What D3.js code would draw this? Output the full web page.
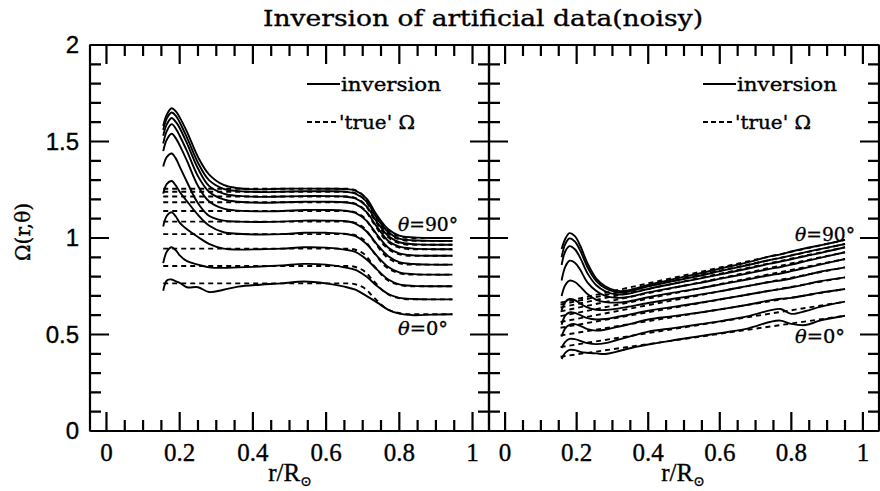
<!DOCTYPE html>
<html><head><meta charset="utf-8">
<script src="https://cdn.jsdelivr.net/npm/d3@7"></script>
<style>body{margin:0;background:#fff}svg{display:block}</style>
</head><body><svg id="c" width="880" height="491"></svg>
<script>
// ---------------- data ----------------
const chartTitle = "Inversion of artificial data(noisy)";
const thetas = [90, 80, 70, 60, 50, 40, 30, 20, 10, 0];
const xMajorTicks = [0, 0.2, 0.4, 0.6, 0.8, 1];
const xMinorTicks = [0.05, 0.1, 0.15, 0.25, 0.3, 0.35, 0.45, 0.5, 0.55, 0.65, 0.7, 0.75, 0.85, 0.9, 0.95];
const xTickLabels = ["0", "0.2", "0.4", "0.6", "0.8", "1"];
const yMajorTicks = [0, 0.5, 1, 1.5, 2];
const yMinorTicks = [0.1, 0.2, 0.3, 0.4, 0.6, 0.7, 0.8, 0.9, 1.1, 1.2, 1.3, 1.4, 1.6, 1.7, 1.8, 1.9];
const yTickLabels = ["0", "0.5", "1", "1.5", "2"];

// left panel: inversion (solid)
const rLeft = [0.155, 0.165, 0.178, 0.19, 0.20, 0.22, 0.25, 0.28, 0.32, 0.36, 0.42, 0.48, 0.54, 0.60, 0.65, 0.68, 0.71, 0.74, 0.77, 0.80, 0.84, 0.89, 0.945];
const leftInv90 = [1.58, 1.64, 1.672, 1.655, 1.625, 1.55, 1.42, 1.33, 1.275, 1.258, 1.252, 1.255, 1.256, 1.255, 1.254, 1.245, 1.205, 1.115, 1.045, 1.012, 1.003, 1.000, 1.000];
const leftInv80 = [1.56, 1.62, 1.650, 1.632, 1.60, 1.52, 1.39, 1.30, 1.255, 1.243, 1.238, 1.24, 1.242, 1.242, 1.24, 1.23, 1.19, 1.10, 1.03, 0.997, 0.988, 0.985, 0.985];
const leftInv70 = [1.53, 1.59, 1.622, 1.60, 1.57, 1.49, 1.36, 1.27, 1.23, 1.218, 1.213, 1.215, 1.217, 1.217, 1.215, 1.205, 1.165, 1.08, 1.01, 0.978, 0.968, 0.965, 0.965];
const leftInv60 = [1.49, 1.555, 1.590, 1.565, 1.53, 1.45, 1.32, 1.24, 1.20, 1.188, 1.183, 1.185, 1.188, 1.188, 1.185, 1.175, 1.135, 1.055, 0.985, 0.955, 0.945, 0.942, 0.942];
const leftInv50 = [1.45, 1.51, 1.540, 1.515, 1.48, 1.40, 1.27, 1.19, 1.152, 1.142, 1.138, 1.14, 1.145, 1.145, 1.142, 1.13, 1.09, 1.015, 0.95, 0.92, 0.91, 0.908, 0.908];
const leftInv40 = [1.37, 1.42, 1.438, 1.41, 1.37, 1.29, 1.18, 1.115, 1.09, 1.085, 1.083, 1.085, 1.09, 1.09, 1.088, 1.075, 1.035, 0.965, 0.905, 0.875, 0.865, 0.862, 0.862];
const leftInv30 = [1.23, 1.28, 1.295, 1.27, 1.24, 1.19, 1.12, 1.065, 1.03, 1.022, 1.018, 1.02, 1.027, 1.027, 1.022, 1.01, 0.97, 0.905, 0.85, 0.822, 0.813, 0.810, 0.810];
const leftInv20 = [1.06, 1.115, 1.133, 1.11, 1.08, 1.045, 1.005, 0.97, 0.945, 0.94, 0.942, 0.945, 0.952, 0.95, 0.94, 0.928, 0.89, 0.835, 0.785, 0.76, 0.752, 0.750, 0.750];
const leftInv10 = [0.87, 0.93, 0.952, 0.935, 0.91, 0.88, 0.862, 0.848, 0.845, 0.848, 0.852, 0.858, 0.866, 0.862, 0.848, 0.835, 0.80, 0.75, 0.71, 0.69, 0.684, 0.682, 0.682];
const leftInv0  = [0.727, 0.78, 0.785, 0.775, 0.768, 0.745, 0.745, 0.72, 0.732, 0.748, 0.758, 0.765, 0.775, 0.765, 0.748, 0.732, 0.700, 0.665, 0.628, 0.608, 0.600, 0.603, 0.605];

// left panel: 'true' Omega (dashed)
const rLeftTrue = [0.155, 0.66, 0.70, 0.73, 0.76, 0.79, 0.83, 0.945];
const leftTrue90 = [1.255, 1.255, 1.224, 1.140, 1.056, 1.015, 1.000, 1.000];
const leftTrue80 = [1.240, 1.240, 1.209, 1.125, 1.041, 1.000, 0.985, 0.985];
const leftTrue70 = [1.215, 1.215, 1.185, 1.102, 1.020, 0.980, 0.965, 0.965];
const leftTrue60 = [1.185, 1.185, 1.156, 1.076, 0.995, 0.957, 0.942, 0.942];
const leftTrue50 = [1.140, 1.140, 1.112, 1.036, 0.959, 0.922, 0.908, 0.908];
const leftTrue40 = [1.085, 1.085, 1.058, 0.985, 0.911, 0.875, 0.862, 0.862];
const leftTrue30 = [1.020, 1.020, 0.995, 0.926, 0.856, 0.823, 0.810, 0.810];
const leftTrue20 = [0.945, 0.945, 0.922, 0.857, 0.793, 0.762, 0.750, 0.750];
const leftTrue10 = [0.855, 0.855, 0.834, 0.777, 0.720, 0.692, 0.682, 0.682];
const leftTrue0  = [0.765, 0.765, 0.746, 0.693, 0.640, 0.615, 0.605, 0.605];

// right panel: inversion (solid)
const rRight = [0.158, 0.168, 0.18, 0.195, 0.21, 0.23, 0.255, 0.28, 0.31, 0.34, 0.40, 0.47, 0.54, 0.61, 0.68, 0.74, 0.77, 0.80, 0.84, 0.88, 0.95];
const rightInv90 = [0.943, 0.995, 1.025, 1.01, 0.96, 0.87, 0.79, 0.75, 0.727, 0.727, 0.757, 0.787, 0.815, 0.845, 0.875, 0.905, 0.915, 0.93, 0.947, 0.962, 0.99];
const rightInv80 = [0.90, 0.968, 0.998, 0.982, 0.935, 0.85, 0.777, 0.74, 0.72, 0.72, 0.749, 0.777, 0.803, 0.832, 0.86, 0.886, 0.897, 0.91, 0.927, 0.942, 0.969];
const rightInv70 = [0.86, 0.93, 0.958, 0.942, 0.897, 0.818, 0.755, 0.724, 0.708, 0.71, 0.736, 0.763, 0.788, 0.815, 0.842, 0.867, 0.878, 0.89, 0.907, 0.922, 0.952];
const rightInv60 = [0.78, 0.85, 0.882, 0.872, 0.835, 0.77, 0.725, 0.70, 0.69, 0.693, 0.718, 0.743, 0.766, 0.792, 0.817, 0.84, 0.85, 0.862, 0.88, 0.897, 0.926];
const rightInv50 = [0.70, 0.755, 0.779, 0.772, 0.748, 0.71, 0.68, 0.668, 0.665, 0.67, 0.693, 0.717, 0.738, 0.762, 0.786, 0.807, 0.816, 0.828, 0.845, 0.862, 0.891];
const rightInv40 = [0.625, 0.668, 0.684, 0.678, 0.66, 0.64, 0.628, 0.627, 0.633, 0.642, 0.663, 0.685, 0.705, 0.727, 0.752, 0.772, 0.78, 0.79, 0.807, 0.825, 0.848];
const rightInv30 = [0.55, 0.598, 0.614, 0.612, 0.60, 0.585, 0.578, 0.58, 0.59, 0.60, 0.623, 0.643, 0.663, 0.685, 0.707, 0.727, 0.735, 0.745, 0.76, 0.776, 0.796];
const rightInv20 = [0.49, 0.532, 0.55, 0.554, 0.545, 0.528, 0.52, 0.525, 0.538, 0.55, 0.578, 0.595, 0.613, 0.633, 0.655, 0.677, 0.685, 0.69, 0.703, 0.717, 0.736];
const rightInv10 = [0.43, 0.462, 0.477, 0.476, 0.467, 0.455, 0.45, 0.455, 0.47, 0.485, 0.515, 0.533, 0.552, 0.572, 0.595, 0.625, 0.632, 0.607, 0.622, 0.643, 0.67];
const rightInv0  = [0.373, 0.405, 0.42, 0.419, 0.41, 0.405, 0.402, 0.399, 0.41, 0.425, 0.448, 0.47, 0.49, 0.51, 0.532, 0.565, 0.572, 0.555, 0.549, 0.572, 0.597];

// right panel: 'true' Omega (dashed)
const rRightTrue = [0.155, 0.95];
const rightTrue90 = [0.665, 0.990];
const rightTrue80 = [0.655, 0.969];
const rightTrue70 = [0.640, 0.952];
const rightTrue60 = [0.620, 0.926];
const rightTrue50 = [0.595, 0.891];
const rightTrue40 = [0.565, 0.848];
const rightTrue30 = [0.535, 0.796];
const rightTrue20 = [0.495, 0.736];
const rightTrue10 = [0.435, 0.670];
const rightTrue0  = [0.385, 0.597];

const leftInv = [leftInv90, leftInv80, leftInv70, leftInv60, leftInv50, leftInv40, leftInv30, leftInv20, leftInv10, leftInv0];
const leftTrue = [leftTrue90, leftTrue80, leftTrue70, leftTrue60, leftTrue50, leftTrue40, leftTrue30, leftTrue20, leftTrue10, leftTrue0];
const rightInv = [rightInv90, rightInv80, rightInv70, rightInv60, rightInv50, rightInv40, rightInv30, rightInv20, rightInv10, rightInv0];
const rightTrue = [rightTrue90, rightTrue80, rightTrue70, rightTrue60, rightTrue50, rightTrue40, rightTrue30, rightTrue20, rightTrue10, rightTrue0];

// ---------------- drawing ----------------
const svg = d3.select("#c");
const serif = "'DejaVu Serif', 'Liberation Serif', serif";
const roman = "'Liberation Serif', 'DejaVu Serif', serif";
const sans = "'Liberation Sans', 'DejaVu Sans', sans-serif";
const plotTop = 45, plotBottom = 431;
const y = d3.scaleLinear().domain([0, 2]).range([plotBottom, plotTop]);
const MAJ = 19, MIN = 11;

const panels = [
  {x0: 90, x1: 489, r: rLeft, inv: leftInv, rt: rLeftTrue, tru: leftTrue,
   legX: 307, lab90: {x: 398, y: 231}, lab0: {x: 398, y: 335}, xLab: 290},
  {x0: 489, x1: 879, r: rRight, inv: rightInv, rt: rRightTrue, tru: rightTrue,
   legX: 703, lab90: {x: 795, y: 241}, lab0: {x: 795, y: 343}, xLab: 683}
];

const heavy = sel => sel.attr("fill", "#000").attr("stroke", "#000").attr("stroke-width", 0.35);

panels.forEach(p => {
  const x = d3.scaleLinear().domain([-0.045, 1.045]).range([p.x0, p.x1]);
  const g = svg.append("g");

  const lineT = d3.line().x((d, i) => x(p.rt[i])).y(d => y(d)).curve(d3.curveMonotoneX);
  p.tru.forEach(arr => {
    g.append("path").attr("d", lineT(arr)).attr("fill", "none")
      .attr("stroke", "#000").attr("stroke-width", 1.9).attr("stroke-dasharray", "5,4");
  });
  const lineI = d3.line().x((d, i) => x(p.r[i])).y(d => y(d)).curve(d3.curveCatmullRom.alpha(0.5));
  p.inv.forEach(arr => {
    g.append("path").attr("d", lineI(arr)).attr("fill", "none")
      .attr("stroke", "#000").attr("stroke-width", 1.9).attr("stroke-linejoin", "round");
  });

  // frame drawn as one continuous "comb": each edge walks along and spikes inward at ticks
  const xt = [...xMinorTicks.map(v => [x(v), MIN]), ...xMajorTicks.map(v => [x(v), MAJ])].sort((a, b) => a[0] - b[0]);
  const yt = [...yMinorTicks.map(v => [y(v), MIN]), ...yMajorTicks.map(v => [y(v), MAJ])].sort((a, b) => a[0] - b[0]);
  const comb = d3.path();
  // top edge, left to right, spikes downward
  comb.moveTo(p.x0, plotTop);
  xt.forEach(([px, len]) => { comb.lineTo(px, plotTop); comb.lineTo(px, plotTop + len); comb.lineTo(px, plotTop); });
  comb.lineTo(p.x1, plotTop);
  // right edge, top to bottom, spikes leftward
  yt.forEach(([py, len]) => { comb.lineTo(p.x1, py); comb.lineTo(p.x1 - len, py); comb.lineTo(p.x1, py); });
  comb.lineTo(p.x1, plotBottom);
  // bottom edge, right to left, spikes upward
  xt.slice().reverse().forEach(([px, len]) => { comb.lineTo(px, plotBottom); comb.lineTo(px, plotBottom - len); comb.lineTo(px, plotBottom); });
  comb.lineTo(p.x0, plotBottom);
  // left edge, bottom to top, spikes rightward
  yt.slice().reverse().forEach(([py, len]) => { comb.lineTo(p.x0, py); comb.lineTo(p.x0 + len, py); comb.lineTo(p.x0, py); });
  comb.closePath();
  g.append("path").attr("d", comb.toString()).attr("fill", "none")
    .attr("stroke", "#000").attr("stroke-width", 2.2)
    .attr("stroke-linejoin", "bevel").attr("stroke-linecap", "butt");

  xMajorTicks.forEach((t, i) => {
    g.append("text").attr("x", x(t)).attr("y", 461).attr("text-anchor", "middle")
      .attr("font-family", roman).attr("font-size", 25).call(heavy).text(xTickLabels[i]);
  });
  const xl = g.append("text").attr("x", p.xLab).attr("y", 481).attr("text-anchor", "middle")
    .attr("font-family", roman).attr("font-size", 25).call(heavy);
  xl.append("tspan").text("r/R");
  xl.append("tspan").attr("font-size", 14).attr("dy", 5).attr("font-family", serif).text("\u2299");

  g.append("line").attr("x1", p.legX).attr("x2", p.legX + 33).attr("y1", 84).attr("y2", 84)
    .attr("stroke", "#000").attr("stroke-width", 2);
  g.append("text").attr("x", p.legX + 34).attr("y", 91).attr("font-family", serif)
    .attr("font-size", 19).call(heavy).attr("textLength", 100).attr("lengthAdjust", "spacingAndGlyphs").text("inversion");
  g.append("line").attr("x1", p.legX).attr("x2", p.legX + 30).attr("y1", 122).attr("y2", 122)
    .attr("stroke", "#000").attr("stroke-width", 2).attr("stroke-dasharray", "5,3");
  g.append("text").attr("x", p.legX + 32).attr("y", 129).attr("font-family", serif)
    .attr("font-size", 19).call(heavy).attr("textLength", 76).attr("lengthAdjust", "spacingAndGlyphs").text("'true' \u03A9");

  const thLab = (pos, deg, w) => {
    const t = g.append("text").attr("x", pos.x).attr("y", pos.y).attr("font-family", serif)
      .attr("font-size", 19).call(heavy).attr("textLength", w).attr("lengthAdjust", "spacingAndGlyphs");
    t.append("tspan").attr("font-style", "italic").text("\u03B8");
    t.append("tspan").text("=" + deg + "\u00B0");
  };
  thLab(p.lab90, thetas[0], 60);
  thLab(p.lab0, thetas[thetas.length - 1], 50);
});

yMajorTicks.forEach((t, i) => {
  svg.append("text").attr("x", 79).attr("y", y(t) + 8).attr("text-anchor", "end")
    .attr("font-family", sans).attr("font-size", 24).call(heavy).text(yTickLabels[i]);
});
svg.append("text").attr("transform", "translate(30,232) rotate(-90)").attr("text-anchor", "middle")
  .attr("font-family", serif).attr("font-size", 20).call(heavy).text("\u03A9(r,\u03B8)");
svg.append("text").attr("x", 483).attr("y", 26).attr("text-anchor", "middle")
  .attr("font-family", serif).attr("font-size", 22).call(heavy).attr("textLength", 440)
  .attr("lengthAdjust", "spacingAndGlyphs").text(chartTitle);
</script></body></html>
